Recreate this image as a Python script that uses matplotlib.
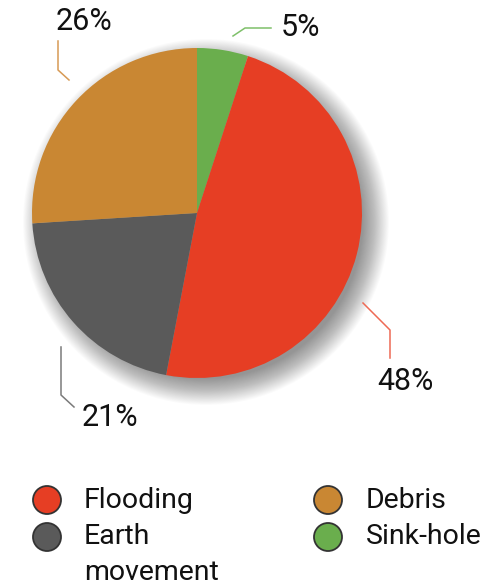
import matplotlib.pyplot as plt
from matplotlib.patches import Circle

plt.rcParams['font.family'] = ['Roboto', 'DejaVu Sans']

# slices in clockwise order starting at 12 o'clock
labels = ["Sink-hole", "Flooding", "Earth movement", "Debris"]
values = [5, 48, 21, 26]
colors = ["#6aae4d", "#e63e24", "#5a5a5a", "#c98733"]
line_colors = ["#7fc06a", "#ee6a55", "#7a7a7a", "#d79a55"]

# legend order (two columns), long names split over two lines
legend_labels = [["Flooding"], ["Earth", "movement"], ["Debris"], ["Sink-hole"]]
legend_colors = ["#e63e24", "#5a5a5a", "#c98733", "#6aae4d"]

W, H = 484, 587
fig = plt.figure(figsize=(W / 100, H / 100), dpi=100)
ax = fig.add_axes([0, 0, 1, 1])

cx, cy, r = 197, H - 213, 165

# soft drop shadow: stacked translucent discs
for i in range(30):
    ax.add_patch(Circle((cx + 9, cy - 9), r + 18 - i * 0.9,
                        color="#000000", alpha=0.014, lw=0, zorder=1))

ax.pie(values, colors=colors, startangle=90, counterclock=False,
       center=(cx, cy), radius=r, frame=True,
       wedgeprops=dict(linewidth=0, zorder=2))
ax.set_xlim(0, W)
ax.set_ylim(0, H)
ax.axis("off")

# leader lines (pixel coords from top) and label positions
leaders = [
    ([(233, 36), (245, 28), (271, 28)], (281, 28)),
    ([(363, 303), (390, 330), (390, 358)], (377, 381)),
    ([(61, 347), (61, 395), (74, 407)], (82, 418)),
    ([(58, 41), (58, 70), (69, 80)], (56, 22)),
]
for (pts, (tx, ty)), v, lc in zip(leaders, values, line_colors):
    xs = [p[0] for p in pts]
    ys = [H - p[1] for p in pts]
    ax.plot(xs, ys, color=lc, lw=1.1, zorder=3)
    ax.text(tx, H - ty, f"{v}%", fontsize=22, ha="left", va="center",
            color="#111111", zorder=4)

# legend
leg_pos = [(47, 500, 84), (47, 537, 84), (328, 500, 366), (328, 537, 366)]
for (mx, my, tx), lines, col in zip(leg_pos, legend_labels, legend_colors):
    ax.add_patch(Circle((mx, H - my), 14, facecolor=col, edgecolor="#333333",
                        lw=1.3, zorder=3))
    for k, line in enumerate(lines):
        ax.text(tx, H - my - k * 35, line, fontsize=20.5, ha="left",
                va="center", color="#111111")

fig.savefig("out.png", dpi=100)
